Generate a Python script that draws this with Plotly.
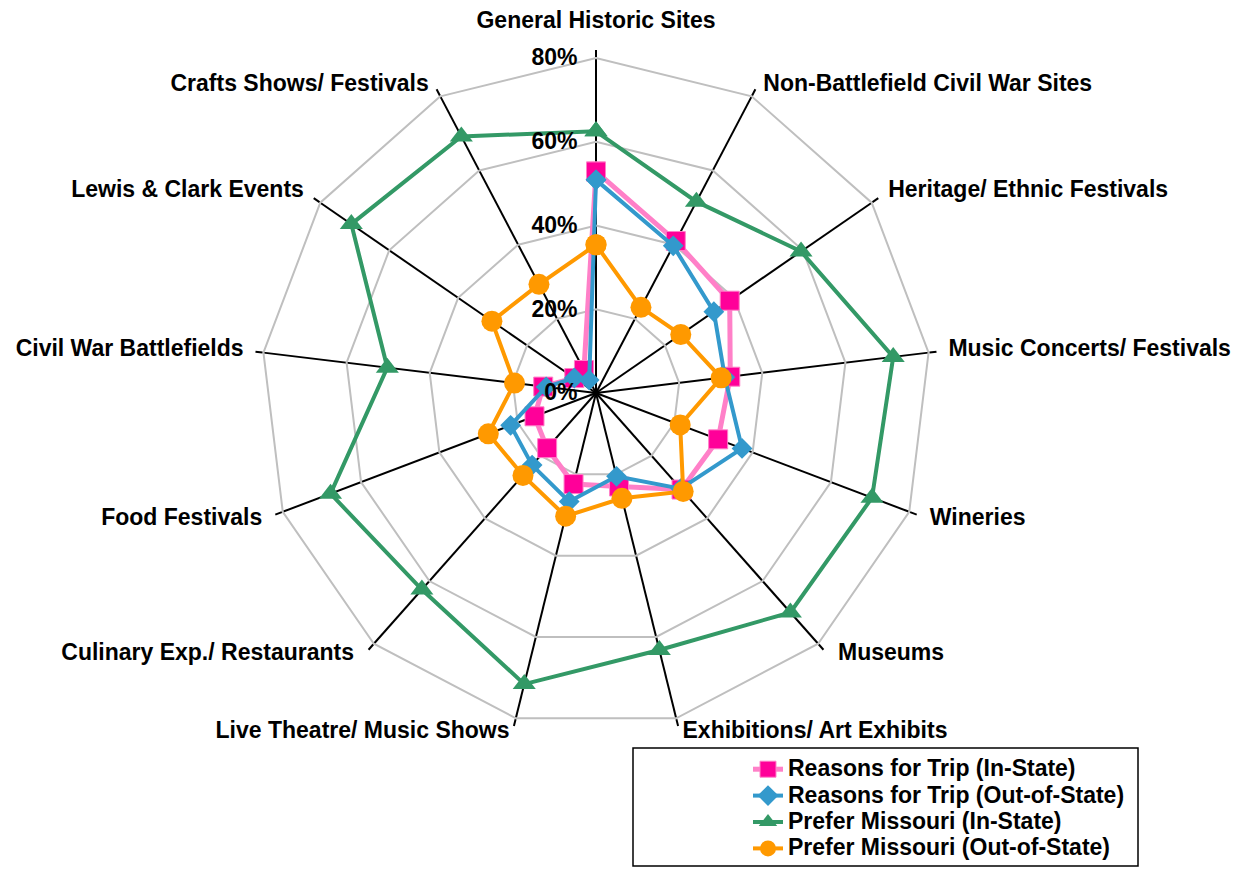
import plotly.graph_objects as go

categories = [
    "General Historic Sites",
    "Non-Battlefield Civil War Sites",
    "Heritage/ Ethnic Festivals",
    "Music Concerts/ Festivals",
    "Wineries",
    "Museums",
    "Exhibitions/ Art Exhibits",
    "Live Theatre/ Music Shows",
    "Culinary Exp./ Restaurants",
    "Food Festivals",
    "Civil War Battlefields",
    "Lewis & Clark Events",
    "Crafts Shows/ Festivals",
]

reasons_in_state = [52.9, 41.0, 38.8, 32.3, 31.2, 30.8, 23.0, 22.4, 17.6, 15.7, 12.7, 6.3, 6.2]
reasons_out_state = [50.9, 39.7, 34.2, 31.0, 37.3, 30.5, 20.5, 26.7, 23.0, 21.8, 12.0, 6.3, 3.5]
prefer_in_state = [62.5, 51.6, 59.5, 71.5, 70.5, 70.0, 63.2, 71.6, 62.7, 67.8, 50.2, 71.0, 69.2]
prefer_out_state = [35.4, 23.1, 24.6, 30.1, 21.5, 31.4, 25.9, 30.3, 26.3, 27.5, 19.6, 30.2, 29.3]

series_names = [
    "Reasons for Trip (In-State)",
    "Reasons for Trip (Out-of-State)",
    "Prefer Missouri (In-State)",
    "Prefer Missouri (Out-of-State)",
]

radial_ticks = [0, 20, 40, 60, 80]
radial_tick_labels = ["0%", "20%", "40%", "60%", "80%"]

W, H = 1254, 869
OFF = 8  # page offset of the plot div in the screenshot
FONT = "Arial, 'Liberation Sans', sans-serif"
cx, cy, R = 596, 393, 335
RMAX = 80
R2 = 375  # radius of the label overlay subplot (same scale per px)

# category label placement (layout only): px beyond the outer ring, and anchor
label_gap_px = [24, 25, 20, 20, 22, 30, 26.5, 26.5, 30, 22, 20, 20, 25]
label_anchor = ["top center", "bottom right", "middle right", "middle right", "middle right",
                "top right", "top right", "top left", "top left", "middle left",
                "middle left", "middle left", "bottom left"]

styles = [
    dict(line=dict(color="#FF80C8", width=5),
         marker=dict(symbol="square", size=19, color="#FF0099", line=dict(color="#FF80C8", width=1))),
    dict(line=dict(color="#3399CC", width=4), marker=dict(symbol="diamond", size=16, color="#3399CC")),
    dict(line=dict(color="#339966", width=4), marker=dict(symbol="triangle-up", size=20, color="#339966")),
    dict(line=dict(color="#FF9900", width=4), marker=dict(symbol="circle", size=21, color="#FF9900")),
]

fig = go.Figure()
for name, vals, st in zip(series_names,
                          [reasons_in_state, reasons_out_state, prefer_in_state, prefer_out_state],
                          styles):
    fig.add_trace(go.Scatterpolar(
        r=vals + [vals[0]],
        theta=categories + [categories[0]],
        mode="lines+markers",
        name='<span style="font-size:23px">' + name + '</span>',
        line=st["line"],
        marker=st["marker"],
        cliponaxis=False,
    ))

# category labels drawn through a concentric overlay polar with the same scale
fig.add_trace(go.Scatterpolar(
    r=[RMAX * (R + g) / R for g in label_gap_px],
    theta=categories,
    mode="text",
    text=categories,
    textposition=label_anchor,
    textfont=dict(size=23, weight="bold", color="black", family=FONT),
    showlegend=False,
    hoverinfo="skip",
    cliponaxis=False,
    subplot="polar2",
))


def px_x(x):
    return (x - OFF) / W


def px_y(y):
    return 1 - (y - OFF) / H


hidden_radial = dict(range=[0, RMAX * R2 / R], showgrid=False, showline=False,
                     showticklabels=False, ticks="")
hidden_angular = dict(direction="clockwise", rotation=90, showgrid=False, showline=False,
                      showticklabels=False, ticks="", categoryorder="array",
                      categoryarray=categories)

fig.update_layout(
    width=W, height=H,
    margin=dict(l=0, r=0, t=0, b=0),
    paper_bgcolor="white",
    font=dict(family=FONT, color="black"),
    polar=dict(
        domain=dict(x=[px_x(cx - R), px_x(cx + R)], y=[px_y(cy + R), px_y(cy - R)]),
        gridshape="linear",
        bgcolor="white",
        radialaxis=dict(
            range=[0, RMAX], tickvals=radial_ticks, ticktext=radial_tick_labels,
            angle=90, side="counterclockwise", tickangle=90,
            showline=False, gridcolor="#BFBFBF", gridwidth=2,
            ticks="outside", ticklen=10, tickcolor="rgba(0,0,0,0)",
            tickfont=dict(size=23, weight="bold", color="black", family=FONT),
            layer="above traces",
        ),
        angularaxis=dict(
            direction="clockwise", rotation=90,
            showline=True, linecolor="#BFBFBF", linewidth=2,
            gridcolor="black", gridwidth=1.5,
            ticks="outside", ticklen=7, tickcolor="black", tickwidth=1.5,
            showticklabels=False, categoryorder="array", categoryarray=categories,
            layer="below traces",
        ),
    ),
    polar2=dict(
        domain=dict(x=[px_x(cx - R2), px_x(cx + R2)], y=[px_y(cy + R2), px_y(cy - R2)]),
        bgcolor="rgba(0,0,0,0)",
        radialaxis=hidden_radial,
        angularaxis=hidden_angular,
    ),
    legend=dict(
        x=px_x(748), y=px_y(751), xanchor="left", yanchor="top",
        font=dict(size=18, weight="bold", family=FONT, color="black"),
        bgcolor="rgba(0,0,0,0)", borderwidth=0,
        traceorder="normal",
    ),
    shapes=[dict(type="rect", xref="paper", yref="paper",
                 x0=px_x(633), x1=px_x(1138), y0=px_y(866), y1=px_y(748),
                 line=dict(color="black", width=1.5), fillcolor="rgba(0,0,0,0)")],
)

fig.write_html("out.html")
